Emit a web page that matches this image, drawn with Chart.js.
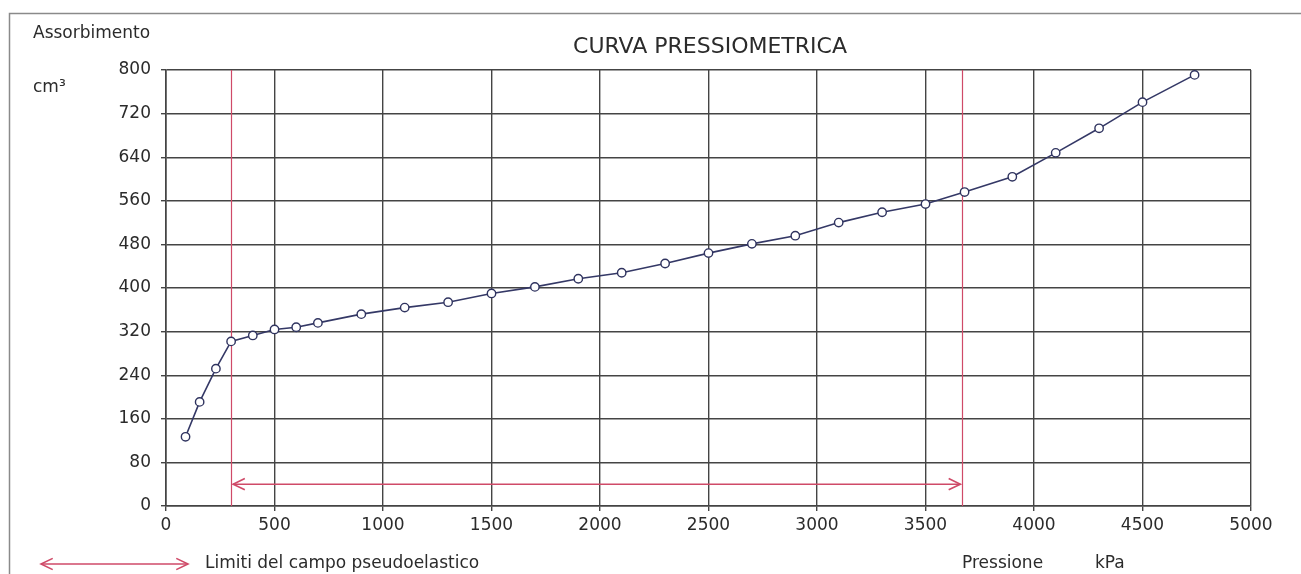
<!DOCTYPE html>
<html>
<head>
<meta charset="utf-8">
<script src="https://cdn.jsdelivr.net/npm/chart.js@4.4.1/dist/chart.umd.min.js"></script>
<style>
  html, body { margin: 0; padding: 0; background: #fff; }
  #wrap { width: 1301px; height: 574px; position: relative; }
</style>
</head>
<body>
<div id="wrap"><canvas id="c" width="1301" height="574"></canvas></div>
<script>
// ---- data ----
const pressure = [90, 155, 230, 300, 400, 500, 600, 700, 900, 1100, 1300, 1500, 1700, 1900, 2100, 2300, 2500, 2700, 2900, 3100, 3300, 3500, 3680, 3900, 4100, 4300, 4500, 4740];
const volume   = [127, 191, 252, 302, 313, 324, 328, 336, 352, 364, 374, 390, 402, 417, 428, 445, 464, 481, 496, 520, 539, 554, 576, 604, 648, 693, 741, 791];
const xTicks = [0, 500, 1000, 1500, 2000, 2500, 3000, 3500, 4000, 4500, 5000];
const yTicks = [0, 80, 160, 240, 320, 400, 480, 560, 640, 720, 800];
const limits = [300, 3670];      // limiti del campo pseudoelastico (kPa)
const arrowLevel = [40];         // quota della freccia (cm³)

const titleText = 'CURVA PRESSIOMETRICA';
const yLabel1 = 'Assorbimento';
const yLabel2 = 'cm³';
const xLabel1 = 'Pressione';
const xLabel2 = 'kPa';
const legendText = 'Limiti del campo pseudoelastico';

const points = pressure.map((p, i) => ({ x: p, y: volume[i] }));

const RED = '#cf4a68';
const FONT = '"DejaVu Sans", sans-serif';

function chevron(ctx, x, y, dir, len) {
  const a = Math.PI / 7;
  ctx.beginPath();
  ctx.moveTo(x - dir * len * Math.cos(a), y - len * Math.sin(a));
  ctx.lineTo(x, y);
  ctx.lineTo(x - dir * len * Math.cos(a), y + len * Math.sin(a));
  ctx.stroke();
}

const decor = {
  id: 'decor',
  beforeDraw(chart) {
    const ctx = chart.ctx;
    ctx.save();
    ctx.fillStyle = '#fff';
    ctx.fillRect(0, 0, chart.width, chart.height);
    ctx.strokeStyle = '#8a8a8a';
    ctx.lineWidth = 1.5;
    ctx.strokeRect(9.5, 13.5, 1400, 700);
    ctx.restore();
  },
  beforeDatasetsDraw(chart) {
    const ctx = chart.ctx;
    const xs = chart.scales.x, ys = chart.scales.y;
    const ca = chart.chartArea;
    ctx.save();
    ctx.strokeStyle = RED;
    ctx.lineWidth = 1.2;
    limits.forEach(v => {
      const px = Math.round(xs.getPixelForValue(v)) + 0.5;
      ctx.beginPath();
      ctx.moveTo(px, ca.top);
      ctx.lineTo(px, ca.bottom);
      ctx.stroke();
    });
    const ay = ys.getPixelForValue(arrowLevel[0]);
    const x1 = xs.getPixelForValue(limits[0]) + 2;
    const x2 = xs.getPixelForValue(limits[1]) - 2;
    ctx.lineWidth = 1.6;
    ctx.beginPath();
    ctx.moveTo(x1, ay);
    ctx.lineTo(x2, ay);
    ctx.stroke();
    chevron(ctx, x1, ay, -1, 13);
    chevron(ctx, x2, ay, 1, 13);
    ctx.restore();
  },
  afterDraw(chart) {
    const ctx = chart.ctx;
    ctx.save();
    ctx.fillStyle = '#2b2b2b';
    ctx.textBaseline = 'middle';
    ctx.textAlign = 'left';
    ctx.font = '17px ' + FONT;
    ctx.fillText(yLabel1, 33, 34, 128);
    ctx.fillText(yLabel2, 33, 88);
    ctx.textAlign = 'center';
    ctx.font = '22px ' + FONT;
    ctx.fillText(titleText, 710, 47, 286);
    ctx.textAlign = 'left';
    ctx.font = '17px ' + FONT;
    ctx.fillText(legendText, 205, 564, 286);
    ctx.fillText(xLabel1, 962, 564, 92);
    ctx.fillText(xLabel2, 1095, 564, 36);
    // legend arrow
    ctx.strokeStyle = RED;
    ctx.lineWidth = 1.6;
    ctx.beginPath();
    ctx.moveTo(41, 564);
    ctx.lineTo(188, 564);
    ctx.stroke();
    chevron(ctx, 41, 564, -1, 13);
    chevron(ctx, 188, 564, 1, 13);
    ctx.restore();
  }
};

new Chart(document.getElementById('c'), {
  type: 'scatter',
  data: {
    datasets: [{
      data: points,
      showLine: true,
      borderColor: '#343866',
      borderWidth: 1.6,
      pointRadius: 4.2,
      pointBorderWidth: 1.4,
      pointBackgroundColor: '#ffffff',
      pointBorderColor: '#2f335f',
      tension: 0
    }]
  },
  options: {
    responsive: false,
    animation: false,
    devicePixelRatio: 1,
    layout: { padding: { top: 70, right: 50, left: 0, bottom: 0 } },
    plugins: { legend: { display: false }, tooltip: { enabled: false }, title: { display: false } },
    scales: {
      x: {
        type: 'linear',
        min: 0, max: 5000,
        afterBuildTicks: s => { s.ticks = xTicks.map(v => ({ value: v })); },
        afterFit: s => { s.height = 68; },
        grid: { color: '#444', lineWidth: 1.4, tickLength: 5, drawTicks: true },
        border: { color: '#444', width: 1.6 },
        ticks: { color: '#2b2b2b', font: { family: FONT, size: 17 }, padding: 4, maxRotation: 0, autoSkip: false, callback: v => String(v) }
      },
      y: {
        type: 'linear',
        min: 0, max: 800,
        afterBuildTicks: s => { s.ticks = yTicks.map(v => ({ value: v })); },
        afterFit: s => { s.width = 166; },
        grid: { color: '#444', lineWidth: 1.4, tickLength: 5, drawTicks: true },
        border: { color: '#444', width: 1.6 },
        ticks: { color: '#2b2b2b', font: { family: FONT, size: 17 }, padding: 10, autoSkip: false, callback: v => String(v) }
      }
    }
  },
  plugins: [decor]
});
</script>
</body>
</html>
